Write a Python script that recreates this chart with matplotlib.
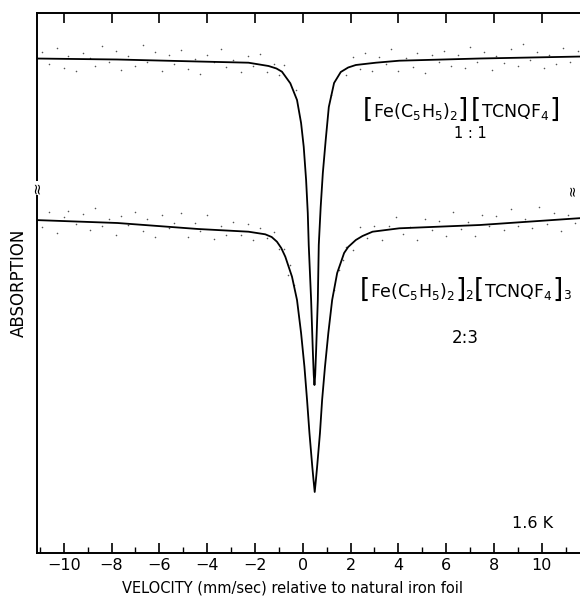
import matplotlib
matplotlib.use("Agg")
import matplotlib.pyplot as plt
from matplotlib.ticker import MultipleLocator
from matplotlib.offsetbox import TextArea, HPacker, AnnotationBbox

plt.rcParams['font.family'] = ['DejaVu Sans']
plt.rcParams['mathtext.fontset'] = 'custom'
plt.rcParams['mathtext.rm'] = 'DejaVu Sans'
plt.rcParams['mathtext.it'] = 'DejaVu Sans'

# ---- fitted curves (velocity mm/s, absorption signal in arbitrary units) ----
upper_v = [-11.24, -7.75, -4.38, -2.27, -1.43, -1.1, -0.87, -0.52, -0.24, -0.07, 0.04, 0.14,
           0.21, 0.25, 0.35, 0.42, 0.46, 0.49, 0.52, 0.56, 0.63, 0.67, 0.75, 0.84, 0.96, 1.09,
           1.31, 1.59, 1.9, 2.22, 3.06, 4.04, 7.41, 11.7]
upper_y = [501.5, 500.5, 498.5, 497.3, 494, 491.5, 488.3, 476.7, 460, 437, 413.3, 380,
           347, 315, 260, 210, 185, 175, 185, 210, 260, 315, 353, 387, 420, 453,
           477, 488, 492.5, 495, 497.3, 499.3, 501.5, 503.5]

lower_v = [-11.24, -7.75, -4.38, -2.27, -1.57, -1.3, -1.08, -0.9, -0.73, -0.6, -0.45, -0.24,
           -0.07, 0.07, 0.18, 0.28, 0.40, 0.45, 0.50, 0.55, 0.60, 0.72, 0.81, 0.93, 1.07,
           1.23, 1.44, 1.6, 1.73, 1.9, 2.22, 2.5, 2.92, 4.04, 7.41, 11.7]
lower_y = [340, 337, 331, 328.3, 325.7, 323, 318.3, 312, 303.3, 294, 283.3, 260,
           227, 193.3, 160, 127, 93, 80, 68, 80, 93, 127, 160, 193.3, 227,
           260, 287, 298, 307, 313, 320, 324, 328.3, 331.7, 335, 342]

# ---- measured points (scatter) ----
upper_dot_v = [-10.9, -10.6, -10.3, -10.0, -9.8, -9.5, -9.2, -8.9, -8.7, -8.4, -8.1, -7.8, -7.6,
               -7.3, -7.0, -6.7, -6.5, -6.2, -5.9, -5.6, -5.4, -5.1, -4.8, -4.5, -4.3, -4.0,
               -3.7, -3.4, -3.2, -2.9, -2.6, -2.3, -2.1, -1.8, -1.5, -1.2, -1.0, -0.8, -0.3,
               1.2, 1.8, 2.1, 2.4, 2.6, 2.9, 3.2, 3.5, 3.7, 4.0, 4.3, 4.6, 4.8, 5.1, 5.4, 5.7,
               5.9, 6.2, 6.5, 6.8, 7.0, 7.3, 7.6, 7.9, 8.1, 8.4, 8.7, 9.0, 9.2, 9.5, 9.8,
               10.1, 10.3, 10.6, 10.9, 11.2, 11.5]
upper_dot_y = [508, 496, 512, 492, 504, 489, 507, 502, 494, 514, 498, 509, 490,
               504, 494, 515, 498, 508, 489, 505, 496, 510, 491, 501, 486, 505,
               498, 511, 493, 500, 488, 504, 494, 506, 488, 496, 485, 495, 470,
               465, 485, 503, 491, 507, 489, 503, 496, 511, 489, 502, 493, 507, 487, 505, 498,
               509, 494, 505, 492, 513, 498, 508, 490, 504, 497, 511, 494, 516, 500, 508,
               492, 505, 496, 512, 498, 509]

lower_dot_v = [-10.9, -10.6, -10.3, -10.0, -9.8, -9.5, -9.2, -8.9, -8.7, -8.4, -8.1, -7.8, -7.6,
               -7.3, -7.0, -6.7, -6.5, -6.2, -5.9, -5.6, -5.4, -5.1, -4.8, -4.5, -4.3, -4.0,
               -3.7, -3.4, -3.2, -2.9, -2.6, -2.3, -2.1, -1.8, -1.5, -1.2, -1.0, -0.8,
               -0.6, -0.55, -0.35, 1.3, 1.5, 1.7,
               1.8, 2.1, 2.4, 2.7, 3.0, 3.3, 3.6, 3.9, 4.2, 4.5, 4.8, 5.1, 5.4, 5.7, 6.0,
               6.3, 6.6, 6.9, 7.2, 7.5, 7.8, 8.1, 8.4, 8.7, 9.0, 9.3, 9.6, 9.9, 10.2, 10.5,
               10.8, 11.1, 11.4]
lower_dot_y = [333, 348, 327, 343, 349, 336, 346, 330, 352, 334, 341, 325, 344,
               335, 348, 329, 341, 323, 345, 332, 337, 347, 323, 337, 329, 345,
               321, 334, 325, 338, 325, 336, 320, 332, 322, 328, 311, 311,
               285, 295, 275, 270, 290, 300,
               313, 310, 333, 322, 334, 320, 334, 343, 326, 333, 320, 341, 330, 339, 324,
               348, 331, 338, 324, 345, 334, 344, 330, 351, 334, 341, 332, 353, 336, 347,
               329, 345, 337]

xticks_major = [-10, -8, -6, -4, -2, 0, 2, 4, 6, 8, 10]

W, H = 580, 602
fig = plt.figure(figsize=(W / 100, H / 100), dpi=100)
left_px, right_px, top_px, bot_px = 36.7, 581, 12.7, 552.5
ax = fig.add_axes([left_px / W, 1 - bot_px / H, (right_px - left_px) / W, (bot_px - top_px) / H])

ax.scatter(upper_dot_v, upper_dot_y, s=1.3, color='#555555', linewidths=0, zorder=2)
ax.scatter(lower_dot_v, lower_dot_y, s=1.3, color='#555555', linewidths=0, zorder=2)
ax.plot(upper_v, upper_y, color='black', lw=1.3, zorder=3)
ax.plot(lower_v, lower_y, color='black', lw=1.3, zorder=3)

ax.set_xlim(-11.13, 11.64)
ax.set_ylim(560 - bot_px, 560 - top_px)

for s in ['left', 'bottom', 'top']:
    ax.spines[s].set_linewidth(1.4)
ax.spines['right'].set_visible(False)

ax.set_xticks(xticks_major)
ax.xaxis.set_minor_locator(MultipleLocator(1))
ax.tick_params(axis='x', which='major', direction='in', length=7, width=1.2,
               labelsize=11.5, pad=4, top=True, bottom=True)
ax.tick_params(axis='x', which='minor', direction='in', length=4.5, width=1.0,
               top=False, bottom=True)
ax.set_yticks([])

ax.set_xlabel('VELOCITY (mm/sec) relative to natural iron foil', fontsize=10.5, labelpad=3)
ax.xaxis.set_label_coords((292 - left_px) / (right_px - left_px), -0.052)
ax.set_ylabel('ABSORPTION', fontsize=12, labelpad=6)

# break marks
ax.text(0.0, 372, '≈', transform=ax.get_yaxis_transform(), ha='center', va='center',
        fontsize=11, rotation=90,
        bbox=dict(facecolor='white', edgecolor='none', pad=0.2), zorder=5, clip_on=False)
ax.text(0.985, 370, '≈', transform=ax.get_yaxis_transform(), ha='center', va='center',
        fontsize=10, rotation=90, zorder=5, clip_on=False)


def formula(parts, xy):
    boxes = []
    for txt, fs in parts:
        boxes.append(TextArea(txt, textprops=dict(fontsize=fs, color='black')))
    pack = HPacker(children=boxes, align='baseline', pad=0, sep=0)
    ab = AnnotationBbox(pack, xy, xycoords='data', frameon=False, box_alignment=(0.5, 0.5))
    ax.add_artist(ab)


BR = 19
FS = 12.5
formula([('[', BR), (r'$\mathrm{Fe(C_5H_5)_2}$', FS), (']', BR), (' ', 5),
         ('[', BR), (r'$\mathrm{TCNQF_4}$', FS), (']', BR)], (6.62, 450))
formula([('[', BR), (r'$\mathrm{Fe(C_5H_5)_2}$', FS), (']', BR), (r'$_2$', FS),
         ('[', BR), (r'$\mathrm{TCNQF_4}$', FS), (']', BR), (r'$_3$', FS)], (6.83, 270))

ax.text(7.0, 427, '1 : 1', ha='center', va='center', fontsize=10.5)
ax.text(6.8, 222, '2:3', ha='center', va='center', fontsize=12)
ax.text(9.6, 37, '1.6 K', ha='center', va='center', fontsize=11.5)

fig.savefig('out.png', dpi=100)
